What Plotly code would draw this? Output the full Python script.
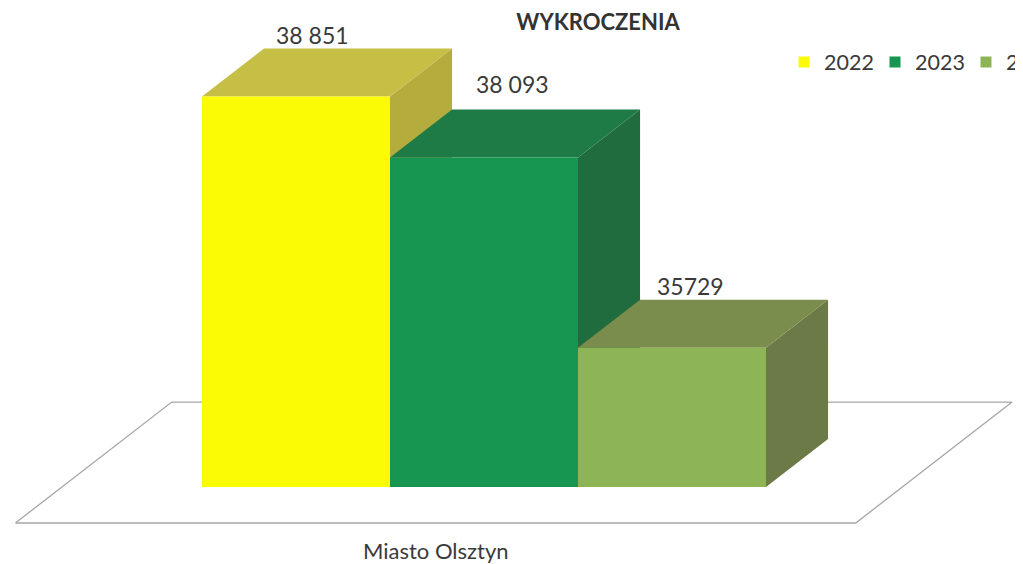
import plotly.graph_objects as go

# ---- data ----
category = "Miasto Olsztyn"
years = ["2022", "2023", "2024"]
values = [38851, 38093, 35729]
value_labels = ["38 851", "38 093", "35729"]
axis_min = 34000

# ---- style ----
front_colors = ["#FBFB05", "#179652", "#8DB556"]
top_colors = ["#C6BF45", "#1E7B45", "#7B8D4C"]
side_colors = ["#B4AD3E", "#216C3F", "#6B7A47"]
label_yshift = [0, 12, 0]
label_xshift = [-2, 10, 0]

DX = 0.33      # depth offset in bar-width units
DY = 596       # depth offset in value units
FLOOR_X = (-0.745, 3.725)
FLOOR_Z = (-0.75, 1.77)
FONT = "Lato"
TXT = "#3A3A3A"

# page body has an 8px margin: figure fills the rest of the 1023x564 window
OFF = 8
W, H = 1023 - OFF, 564 - OFF
BAR_PX = 188          # bar width in px
X0_PX = 202           # left of first bar (window px)
BASE_PX = 487         # baseline (window px)
PX_PER_UNIT = 0.0805


def proj(x, v, z):
    return x + z * DX, v + z * DY


def poly(points):
    xs = [p[0] for p in points] + [points[0][0]]
    ys = [p[1] for p in points] + [points[0][1]]
    return xs, ys


fig = go.Figure()

# floor
fl = [proj(FLOOR_X[0], axis_min, FLOOR_Z[0]), proj(FLOOR_X[1], axis_min, FLOOR_Z[0]),
      proj(FLOOR_X[1], axis_min, FLOOR_Z[1]), proj(FLOOR_X[0], axis_min, FLOOR_Z[1])]
fx, fy = poly(fl)
fig.add_trace(go.Scatter(x=fx, y=fy, mode="lines", fill="toself", fillcolor="white",
                         line=dict(color="#A6A6A6", width=1.3), showlegend=False,
                         hoverinfo="skip"))

# boxes
for i, (yr, v) in enumerate(zip(years, values)):
    x0, x1 = i, i + 1
    side = [proj(x1, axis_min, 0), proj(x1, axis_min, 1), proj(x1, v, 1), proj(x1, v, 0)]
    top = [proj(x0, v, 0), proj(x1, v, 0), proj(x1, v, 1), proj(x0, v, 1)]
    front = [proj(x0, axis_min, 0), proj(x1, axis_min, 0), proj(x1, v, 0), proj(x0, v, 0)]
    for pts, col in ((side, side_colors[i]), (top, top_colors[i]), (front, front_colors[i])):
        px, py = poly(pts)
        fig.add_trace(go.Scatter(x=px, y=py, mode="lines", fill="toself", fillcolor=col,
                                 line=dict(width=0, color=col), showlegend=False,
                                 legendgroup=yr, name=yr, hoverinfo="name"))
    fig.add_annotation(x=i + 0.5 + 0.3 * DX, y=v + DY, text=value_labels[i],
                       showarrow=False, yanchor="bottom", yshift=label_yshift[i] - 2,
                       xshift=label_xshift[i],
                       font=dict(family=FONT, size=23, color=TXT))

# legend entries
for i, yr in enumerate(years):
    fig.add_trace(go.Scatter(x=[None], y=[None], mode="markers", name=yr, legendgroup=yr,
                             marker=dict(symbol="square", size=11, color=front_colors[i])))

# category label
cx = (FLOOR_X[0] + FLOOR_X[1]) / 2 + FLOOR_Z[0] * DX
cy = axis_min + FLOOR_Z[0] * DY
fig.add_annotation(x=cx, y=cy, text=category, showarrow=False, yanchor="middle",
                   yshift=-28, font=dict(family=FONT, size=22, color=TXT))

x_lo = (OFF - X0_PX) / BAR_PX
x_hi = (1023 - X0_PX) / BAR_PX
y_hi = axis_min + (BASE_PX - OFF) / PX_PER_UNIT
y_lo = axis_min - (564 - BASE_PX) / PX_PER_UNIT

fig.update_layout(
    width=W, height=H,
    margin=dict(l=0, r=0, t=0, b=0, autoexpand=False),
    paper_bgcolor="white", plot_bgcolor="white",
    title=dict(text="<b>WYKROCZENIA</b>", x=(598 - OFF) / W, xanchor="center",
               y=1 - (22 - OFF) / H, yanchor="middle",
               font=dict(family=FONT, size=22, color="#333333")),
    xaxis=dict(visible=False, range=[x_lo, x_hi], fixedrange=True),
    yaxis=dict(visible=False, range=[y_lo, y_hi], fixedrange=True),
    legend=dict(orientation="h", x=(784 - OFF) / W, xanchor="left", y=1 - (62 - OFF) / H,
                yanchor="middle", font=dict(family=FONT, size=21.5, color=TXT),
                entrywidth=46, entrywidthmode="pixels",
                bgcolor="rgba(0,0,0,0)"),
    showlegend=True,
)

fig.write_html("out.html")
